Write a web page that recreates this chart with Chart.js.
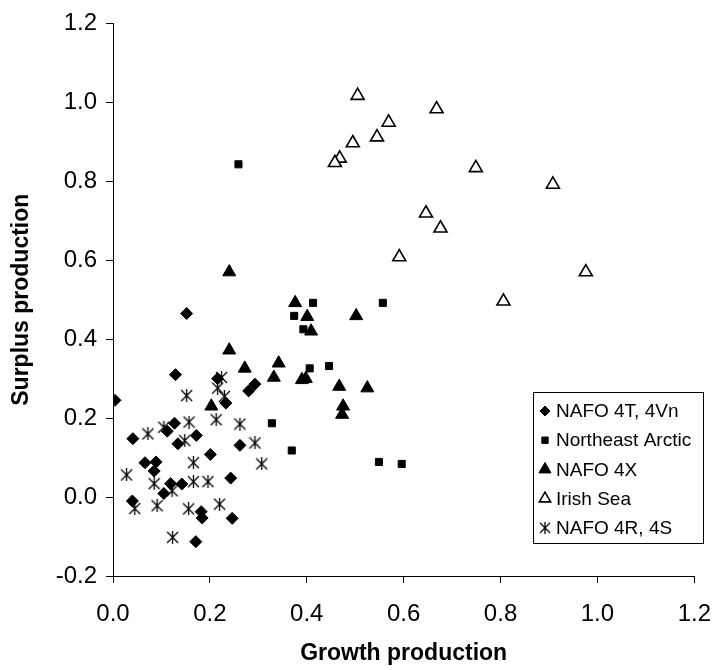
<!DOCTYPE html>
<html>
<head>
<meta charset="utf-8">
<title>Surplus vs growth production</title>
<script src="https://cdn.jsdelivr.net/npm/chart.js@4.4.1/dist/chart.umd.min.js"></script>
<style>
  body { margin: 0; background: #fff; }
  #chart { display: block; }
</style>
</head>
<body>
<canvas id="chart" width="728" height="670"></canvas>
<script>
// stock names, in legend order
const stockNames = ['NAFO 4T, 4Vn', 'Northeast Arctic', 'NAFO 4X', 'Irish Sea', 'NAFO 4R, 4S'];

// axis ticks
const xTicks = [0.0, 0.2, 0.4, 0.6, 0.8, 1.0, 1.2];
const yTicks = [-0.2, 0.0, 0.2, 0.4, 0.6, 0.8, 1.0, 1.2];

// NAFO 4T, 4Vn
const nafo4TGrowth = [0.004, 0.129, 0.041, 0.127, 0.112, 0.134, 0.172, 0.066, 0.089, 0.085, 0.201, 0.216, 0.233,
  0.293, 0.280, 0.262, 0.243, 0.246, 0.171, 0.182, 0.184, 0.040, 0.105, 0.119, 0.142, 0.152];
const nafo4TSurplus = [0.245, 0.310, 0.148, 0.187, 0.167, 0.135, 0.156, 0.087, 0.089, 0.066, 0.108, 0.300, 0.238,
  0.286, 0.269, 0.131, 0.048, -0.054, -0.113, -0.037, -0.053, -0.010, 0.009, 0.034, 0.033, 0.465];

// Northeast Arctic
const arcticGrowth = [0.259, 0.413, 0.374, 0.393, 0.406, 0.446, 0.328, 0.369, 0.557, 0.549, 0.596];
const arcticSurplus = [0.843, 0.492, 0.459, 0.425, 0.326, 0.332, 0.187, 0.118, 0.492, 0.089, 0.084];

// NAFO 4X
const nafo4XGrowth = [0.240, 0.376, 0.401, 0.409, 0.502, 0.240, 0.272, 0.342, 0.332, 0.390, 0.398, 0.467, 0.525,
  0.475, 0.473, 0.203];
const nafo4XSurplus = [0.570, 0.492, 0.457, 0.420, 0.459, 0.372, 0.326, 0.339, 0.303, 0.297, 0.300, 0.280, 0.276,
  0.230, 0.209, 0.230];

// Irish Sea
const irishGrowth = [0.505, 0.668, 0.569, 0.545, 0.495, 0.468, 0.458, 0.749, 0.908, 0.646, 0.676, 0.591, 0.976, 0.806];
const irishSurplus = [1.017, 0.983, 0.949, 0.912, 0.897, 0.858, 0.847, 0.834, 0.792, 0.719, 0.681, 0.608, 0.570, 0.496];

// NAFO 4R, 4S
const nafo4RGrowth = [0.028, 0.072, 0.105, 0.152, 0.157, 0.148, 0.166, 0.085, 0.122, 0.166, 0.196, 0.213, 0.224,
  0.216, 0.230, 0.262, 0.293, 0.307, 0.045, 0.091, 0.156, 0.220, 0.123];
const nafo4RSurplus = [0.056, 0.160, 0.177, 0.257, 0.190, 0.143, 0.087, 0.034, 0.016, 0.039, 0.039, 0.196, 0.303,
  0.276, 0.255, 0.185, 0.137, 0.084, -0.029, -0.022, -0.030, -0.018, -0.102];

const toPoints = (xs, ys) => xs.map((x, i) => ({ x: x, y: ys[i] }));

const FONT = '"Liberation Sans", Arial, sans-serif';

// excel style star marker: an X with a vertical bar through it
const makeStar = (size) => {
  const c = document.createElement('canvas');
  c.width = size;
  c.height = size;
  const g = c.getContext('2d');
  g.strokeStyle = '#000';
  g.lineWidth = 1.3;
  g.beginPath();
  g.moveTo(1, 1); g.lineTo(size - 1, size - 1);
  g.moveTo(size - 1, 1); g.lineTo(1, size - 1);
  g.moveTo(size / 2, 0); g.lineTo(size / 2, size);
  g.stroke();
  return c;
};
const starBig = makeStar(13);
const starSmall = makeStar(12);

// legend drawn as a framed box inside the plot, like the excel original
const boxLegend = {
  id: 'boxLegend',
  afterDraw(chart) {
    const ctx = chart.ctx;
    const left = 533, top = 392, width = 170, height = 151;
    const rowH = 29.2;
    ctx.save();
    ctx.fillStyle = '#fff';
    ctx.fillRect(left, top, width, height);
    ctx.strokeStyle = '#000';
    ctx.lineWidth = 1;
    ctx.strokeRect(left + 0.5, top + 0.5, width, height);
    ctx.font = '19px ' + FONT;
    ctx.textBaseline = 'middle';
    chart.data.datasets.forEach((ds, i) => {
      const y = top + 19 + i * rowH;
      ctx.fillStyle = ds.backgroundColor;
      ctx.strokeStyle = ds.borderColor;
      ctx.lineWidth = ds.borderWidth;
      const style = ds.pointStyle === starBig ? starSmall : ds.pointStyle;
      Chart.helpers.drawPoint(ctx, {
        pointStyle: style,
        radius: ds.legendRadius,
        rotation: 0,
        borderWidth: ds.borderWidth
      }, left + 12, y);
      ctx.fillStyle = '#000';
      ctx.fillText(ds.label, left + 23, y + 1);
    });
    ctx.restore();
  }
};

const makeSet = (label, xs, ys, style, radius, legendRadius, fill, border) => ({
  label: label,
  data: toPoints(xs, ys),
  pointStyle: style,
  pointRadius: radius,
  legendRadius: legendRadius,
  backgroundColor: fill,
  borderColor: '#000',
  borderWidth: border,
  showLine: false
});

new Chart(document.getElementById('chart'), {
  type: 'scatter',
  data: {
    datasets: [
      makeSet(stockNames[0], nafo4TGrowth, nafo4TSurplus, 'rectRot', 6, 5, '#000', 1),
      makeSet(stockNames[1], arcticGrowth, arcticSurplus, 'rect', 5, 4.5, '#000', 1),
      makeSet(stockNames[2], nafo4XGrowth, nafo4XSurplus, 'triangle', 7.5, 7, '#000', 1),
      makeSet(stockNames[3], irishGrowth, irishSurplus, 'triangle', 7.5, 6.5, '#fff', 1.6),
      makeSet(stockNames[4], nafo4RGrowth, nafo4RSurplus, starBig, 6.5, 6, '#000', 1)
    ]
  },
  options: {
    responsive: false,
    animation: false,
    events: [],
    layout: { padding: { left: 0, top: 20, right: 20, bottom: 0 } },
    plugins: {
      legend: { display: false },
      tooltip: { enabled: false }
    },
    scales: {
      x: {
        type: 'linear',
        min: xTicks[0],
        max: xTicks[xTicks.length - 1],
        afterFit: (s) => { s.height = 94; },
        afterBuildTicks: (s) => { s.ticks = xTicks.map((v) => ({ value: v })); },
        grid: { drawOnChartArea: false, drawTicks: true, tickLength: 7, color: '#000' },
        border: { color: '#000', width: 1 },
        ticks: {
          color: '#000',
          padding: 17,
          maxRotation: 0,
          font: { family: FONT, size: 24 },
          callback: (v) => v.toFixed(1)
        },
        title: {
          display: true,
          text: 'Growth production',
          color: '#000',
          padding: { top: 0, bottom: 3 },
          font: { family: FONT, size: 23, weight: 'bold' }
        }
      },
      y: {
        type: 'linear',
        min: yTicks[0],
        max: yTicks[yTicks.length - 1],
        afterFit: (s) => { s.width = 113; },
        afterBuildTicks: (s) => { s.ticks = yTicks.map((v) => ({ value: v })); },
        grid: { drawOnChartArea: false, drawTicks: true, tickLength: 7, color: '#000' },
        border: { color: '#000', width: 1 },
        ticks: {
          color: '#000',
          padding: 9,
          font: { family: FONT, size: 24 },
          callback: (v) => v.toFixed(1)
        },
        title: {
          display: true,
          text: 'Surplus production',
          color: '#000',
          padding: { top: 8, bottom: 0 },
          font: { family: FONT, size: 23, weight: 'bold' }
        }
      }
    }
  },
  plugins: [boxLegend]
});
</script>
</body>
</html>
